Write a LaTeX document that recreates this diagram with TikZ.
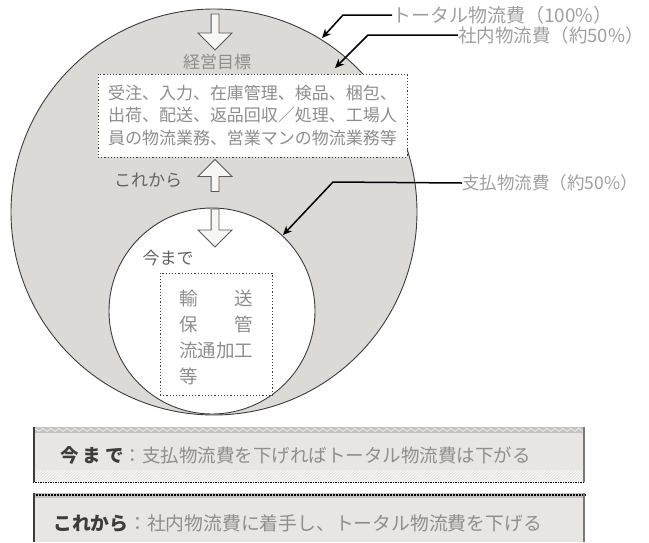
\documentclass[tikz,border=0pt]{standalone}
\usepackage{fontspec}
\setmainfont{Noto Sans CJK JP}
\usetikzlibrary{shapes.arrows,decorations.pathmorphing,patterns,arrows.meta}
\definecolor{bigfill}{HTML}{DCDAD7}
\definecolor{txtgray}{HTML}{8E8E8E}
\definecolor{edge}{HTML}{3C3C3C}
\definecolor{banfill}{HTML}{E8E6E4}
\definecolor{bandark}{HTML}{C4C2C0}
\tikzset{
  circ/.style={circle, draw=edge, line width=0.9pt, inner sep=0pt},
  dotbox/.style={draw=edge, line width=1pt, dash pattern=on 1.2pt off 2pt, fill=white, inner sep=0pt},
  graytext/.style={text=txtgray, inner sep=0pt},
  hollow/.style={single arrow, draw=edge!85, fill=white!75!bigfill, line width=0.8pt, inner sep=3.5pt, single arrow head extend=13pt},
  leadtip/.style={line width=1.5pt, black, -{Stealth[length=9pt,width=8pt]}},
  banner/.style={fill=banfill, draw=none},
  labtext/.style={graytext, anchor=west, text=txtgray!85, font=\fontsize{18.5}{21}\selectfont},
}
\begin{document}
\begin{tikzpicture}[x=1pt,y=-1pt]
\useasboundingbox (0,0) rectangle (649,542);
% circles
\node[circ, fill=bigfill, minimum size=406pt] (big) at (214,212) {};
\node[circ, fill=white, minimum size=206pt] (small) at (212,311) {};
% upper text box
\node[dotbox, minimum width=309pt, minimum height=83pt, align=center, text=txtgray,
      font=\fontsize{17}{22.5}\selectfont] (ubox) at (252.5,115.5)
  {受注、入力、在庫管理、検品、梱包、\\出荷、配送、返品回収／処理、工場人\\員の物流業務、営業マンの物流業務等};
\node[graytext, font=\fontsize{17}{20}\selectfont] (goal) at (217,62) {経営目標};
% lower text box
\node[dotbox, minimum width=112pt, minimum height=122pt] (lbox) at (216,334) {};
\node[graytext, align=left, text width=74pt, font=\fontsize{18.5}{26}\selectfont] (ltext) at (216,337)
  {輸　　送\\保　　管\\流通加工\\等};
\node[graytext, font=\fontsize{17}{20}\selectfont, text=txtgray!70!black] (now) at (168,258) {今まで};
\node[graytext, font=\fontsize{17}{20}\selectfont, text=txtgray!70!black] (future) at (148,180) {これから};
% hollow arrows
\node[hollow, minimum height=36pt, shape border rotate=270] (a1) at (215,30) {};
\node[hollow, minimum height=32pt, shape border rotate=90] (a2) at (215,177.5) {};
\node[hollow, minimum height=38pt, shape border rotate=270] (a3) at (215,226) {};
% labels and leaders
\node[labtext, font=\fontsize{19}{21}\selectfont] (lab1) at (392,15) {トータル物流費（100\%）};
\node[labtext] (lab2) at (458,35) {社内物流費（約50\%）};
\node[labtext, font=\fontsize{17.5}{21}\selectfont] (lab3) at (462,183) {支払物流費（約50\%）};
\coordinate (k1) at (343,15); \coordinate (p1) at (322,38);
\coordinate (k2) at (368,35); \coordinate (p2) at (335,68);
\coordinate (k3) at (333,182); \coordinate (p3) at (283,235);
\draw[leadtip] (lab1.west) -- (k1) -- (p1);
\draw[leadtip] (lab2.west) -- (k2) -- (p2);
\draw[leadtip] (lab3.west) -- (k3) -- (p3);
% banner 1
\node[banner, minimum width=552pt, minimum height=55pt, inner sep=0pt] (ban1) at (309,454.5) {};
\fill[bandark] (ban1.north west) rectangle ([yshift=-6pt]ban1.north east);
\draw[white!60!bandark, line width=1pt, decorate, decoration={zigzag, segment length=8pt, amplitude=1.5pt}]
  ([yshift=-3pt]ban1.north west) -- ([yshift=-3pt]ban1.north east);
\fill[pattern=north east lines, pattern color=white] ([yshift=12pt]ban1.south west) rectangle (ban1.south east);
\draw[black, line width=1.2pt, dash pattern=on 1.5pt off 1pt] (ban1.south west) -- (ban1.south east);
\draw[edge, line width=2pt] ([xshift=1pt]ban1.north west) -- ([xshift=1pt]ban1.south west);
\draw[edge!70, line width=1.5pt] ([xshift=-1pt]ban1.north east) -- ([xshift=-1pt]ban1.south east);
\node[anchor=west, inner sep=0pt, font=\fontsize{18.5}{20}\selectfont] (t1) at (60,455)
  {\textcolor{edge}{\textbf{今\hspace{4pt}ま\hspace{4pt}で}}\textcolor{txtgray}{：支払物流費を下げればトータル物流費は下がる}};
% banner 2
\node[banner, minimum width=552pt, minimum height=49pt, inner sep=0pt] (ban2) at (309,517.5) {};
\fill[bandark] (ban2.north west) rectangle ([yshift=-5pt]ban2.north east);
\draw[black, line width=1.5pt, dash pattern=on 2pt off 1pt] ([yshift=-2pt]ban2.north west) -- ([yshift=-2pt]ban2.north east);
\draw[edge, line width=2pt] ([xshift=1pt]ban2.north west) -- ([xshift=1pt]ban2.south west);
\draw[edge!70, line width=1.5pt] ([xshift=-1pt]ban2.north east) -- ([xshift=-1pt]ban2.south east);
\node[anchor=west, inner sep=0pt, font=\fontsize{18.8}{20}\selectfont] (t2) at (53,523)
  {\textcolor{edge}{\textbf{これから}}\textcolor{txtgray}{：社内物流費に着手し、トータル物流費を下げる}};
\end{tikzpicture}
\end{document}
